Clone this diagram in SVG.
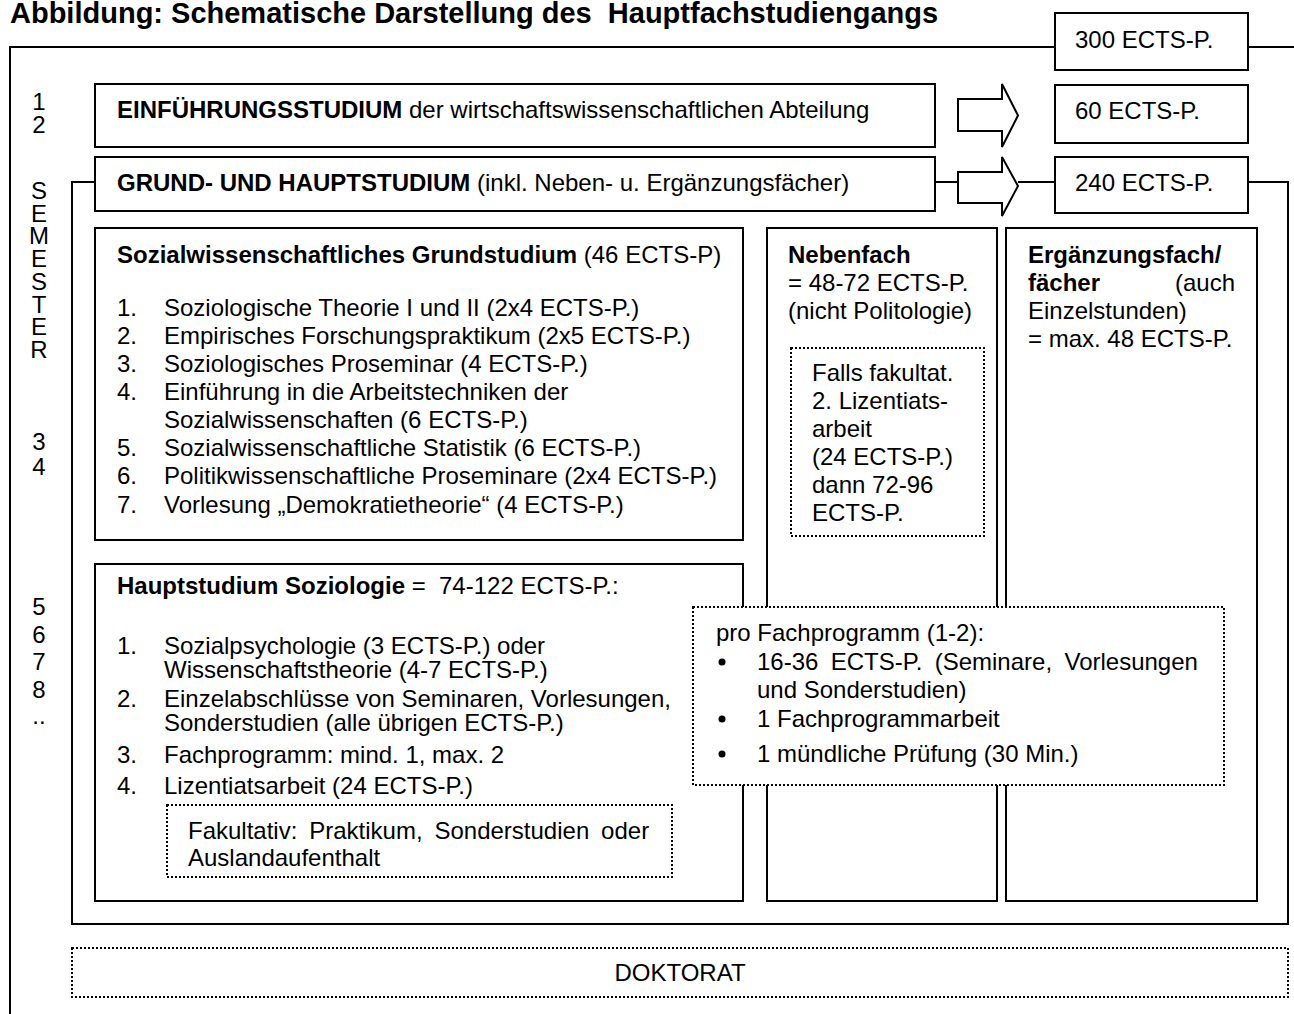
<svg xmlns="http://www.w3.org/2000/svg" width="1294" height="1014" viewBox="0 0 1294 1014">
<style>
.box{fill:#fff;stroke:#000;stroke-width:2}
.dot{fill:#fff;stroke:#000;stroke-width:2;stroke-dasharray:2 2}
.ln{fill:none;stroke:#000;stroke-width:2}
.dl{fill:none;stroke:#000;stroke-width:2;stroke-dasharray:2 2}
text{font-family:"Liberation Sans",Arial,sans-serif;font-size:24px;fill:#000}
.b{font-weight:bold}
.ttl{font-size:29px;font-weight:bold}
.sem{text-anchor:middle}
</style>
<rect width="1294" height="1014" fill="#fff"/>
<text id="title" class="ttl" x="10" y="23" xml:space="preserve">Abbildung: Schematische Darstellung des  Hauptfachstudiengangs</text>
<g id="connectors">
<path class="ln" d="M1055,47 H10 V1014 M1248,47 H1294"/>
<path class="ln" d="M95,182 H72 V924 H1288 V182 H1248"/>
<path class="ln" d="M935,182 H958 M1018,182 H1055"/>
<path class="dl" d="M508,756 H693"/>
</g>
<g id="ects300"><rect class="box" x="1055" y="13" width="193" height="57"/><text x="1075" y="48">300 ECTS-P.</text></g>
<g id="einfuehrung"><rect class="box" x="95" y="84" width="840" height="63"/><text x="117" y="118"><tspan class="b">EINFÜHRUNGSSTUDIUM</tspan> der wirtschaftswissenschaftlichen Abteilung</text></g>
<g id="arrow1"><polygon class="box" points="958,99 1002,99 1002,84 1018,115.5 1002,147 1002,131 958,131"/></g>
<g id="ects60"><rect class="box" x="1055" y="85" width="193" height="58"/><text x="1075" y="119">60 ECTS-P.</text></g>
<g id="grund"><rect class="box" x="95" y="157" width="840" height="54"/><text x="117" y="191"><tspan class="b">GRUND- UND HAUPTSTUDIUM</tspan> (inkl. Neben- u. Ergänzungsfächer)</text></g>
<g id="arrow2"><polygon class="box" points="958,172 1002,172 1002,157 1018,186 1002,216 1002,203 958,203"/></g>
<g id="ects240"><rect class="box" x="1055" y="157" width="193" height="56"/><text x="1075" y="191">240 ECTS-P.</text></g>
<g id="semester">
<text class="sem"><tspan x="39" y="110">1</tspan><tspan x="39" y="133">2</tspan></text>
<text class="sem"><tspan x="39" y="199">S</tspan><tspan x="39" y="221.7">E</tspan><tspan x="39" y="244.4">M</tspan><tspan x="39" y="267">E</tspan><tspan x="39" y="289.8">S</tspan><tspan x="39" y="312.5">T</tspan><tspan x="39" y="335">E</tspan><tspan x="39" y="357.7">R</tspan></text>
<text class="sem"><tspan x="39" y="450">3</tspan><tspan x="39" y="475">4</tspan></text>
<text class="sem"><tspan x="39" y="615">5</tspan><tspan x="39" y="643">6</tspan><tspan x="39" y="670">7</tspan><tspan x="39" y="698">8</tspan><tspan x="39" y="724">..</tspan></text>
</g>
<g id="sozial"><rect class="box" x="95" y="228" width="648" height="312"/>
<text x="117" y="263"><tspan class="b">Sozialwissenschaftliches Grundstudium</tspan> (46 ECTS-P)</text>
<text x="117" y="316">1.</text><text x="164" y="316">Soziologische Theorie I und II (2x4 ECTS-P.)</text>
<text x="117" y="344">2.</text><text x="164" y="344">Empirisches Forschungspraktikum (2x5 ECTS-P.)</text>
<text x="117" y="372">3.</text><text x="164" y="372">Soziologisches Proseminar (4 ECTS-P.)</text>
<text x="117" y="400">4.</text><text x="164" y="400">Einführung in die Arbeitstechniken der</text>
<text x="164" y="428">Sozialwissenschaften (6 ECTS-P.)</text>
<text x="117" y="456">5.</text><text x="164" y="456">Sozialwissenschaftliche Statistik (6 ECTS-P.)</text>
<text x="117" y="484">6.</text><text x="164" y="484">Politikwissenschaftliche Proseminare (2x4 ECTS-P.)</text>
<text x="117" y="513">7.</text><text x="164" y="513">Vorlesung „Demokratietheorie“ (4 ECTS-P.)</text>
</g>
<g id="nebenfach"><rect class="box" x="767" y="228" width="230" height="673"/>
<text x="788" y="263" class="b">Nebenfach</text>
<text x="788" y="291">= 48-72 ECTS-P.</text>
<text x="788" y="319">(nicht Politologie)</text>
<rect class="dot" x="791" y="348" width="193" height="188"/>
<text x="812" y="381">Falls fakultat.</text>
<text x="812" y="409">2. Lizentiats-</text>
<text x="812" y="437">arbeit</text>
<text x="812" y="465">(24 ECTS-P.)</text>
<text x="812" y="493">dann 72-96</text>
<text x="812" y="521">ECTS-P.</text>
</g>
<g id="ergaenzung"><rect class="box" x="1006" y="228" width="251" height="673"/>
<text x="1028" y="263" class="b">Ergänzungsfach/</text>
<text x="1028" y="291" class="b">fächer</text><text x="1235" y="291" text-anchor="end">(auch</text>
<text x="1028" y="319">Einzelstunden)</text>
<text x="1028" y="347">= max. 48 ECTS-P.</text>
</g>
<g id="hauptstudium"><rect class="box" x="95" y="564" width="648" height="337"/>
<text x="117" y="594" xml:space="preserve"><tspan class="b">Hauptstudium Soziologie</tspan> =  74-122 ECTS-P.:</text>
<text x="117" y="654">1.</text><text x="164" y="654">Sozialpsychologie (3 ECTS-P.) oder</text>
<text x="164" y="678">Wissenschaftstheorie (4-7 ECTS-P.)</text>
<text x="117" y="707">2.</text><text x="164" y="707">Einzelabschlüsse von Seminaren, Vorlesungen,</text>
<text x="164" y="731">Sonderstudien (alle übrigen ECTS-P.)</text>
<text x="117" y="763">3.</text><text x="164" y="763">Fachprogramm: mind. 1, max. 2</text>
<text x="117" y="794">4.</text><text x="164" y="794">Lizentiatsarbeit (24 ECTS-P.)</text>
<rect class="dot" x="167" y="805" width="505" height="72"/>
<text x="188" y="839" word-spacing="5.2">Fakultativ: Praktikum, Sonderstudien oder</text>
<text x="188" y="866">Auslandaufenthalt</text>
</g>
<g id="fachprogramm"><rect class="dot" x="693" y="607" width="531" height="178"/>
<text x="716" y="641">pro Fachprogramm (1-2):</text>
<circle cx="722" cy="662" r="3.5"/><text x="757" y="670" word-spacing="5.7">16-36 ECTS-P. (Seminare, Vorlesungen</text>
<text x="757" y="698">und Sonderstudien)</text>
<circle cx="722" cy="719" r="3.5"/><text x="757" y="727">1 Fachprogrammarbeit</text>
<circle cx="722" cy="754" r="3.5"/><text x="757" y="762">1 mündliche Prüfung (30 Min.)</text>
</g>
<g id="doktorat"><rect class="dot" x="72" y="948" width="1216" height="49"/><text x="680" y="981" text-anchor="middle">DOKTORAT</text></g>
</svg>
